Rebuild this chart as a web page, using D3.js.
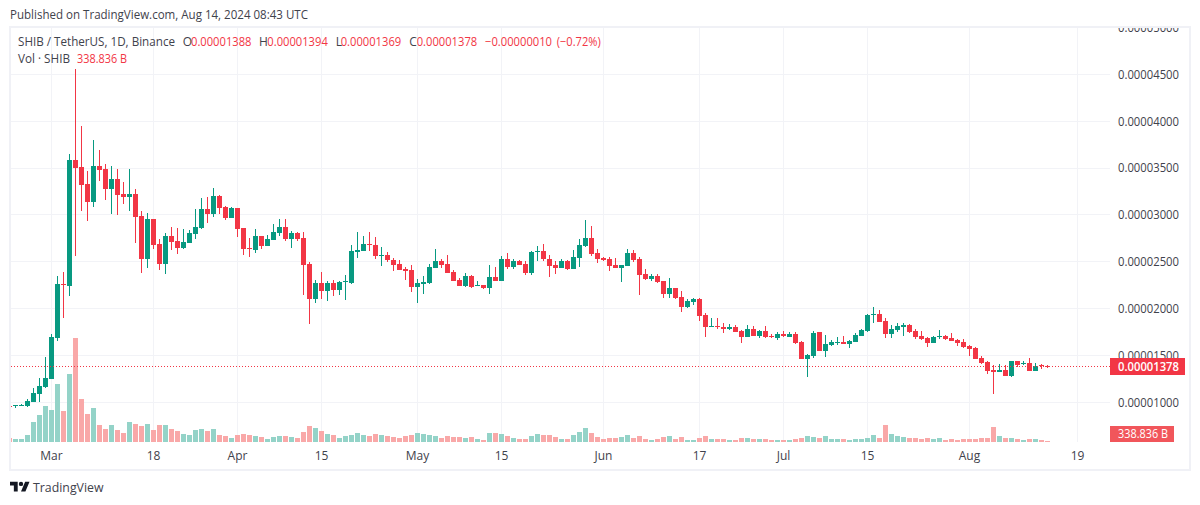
<!DOCTYPE html>
<html>
<head>
<meta charset="utf-8">
<script src="https://cdn.jsdelivr.net/npm/d3@7/dist/d3.min.js"></script>
<style>
html,body{margin:0;padding:0;background:#fff;overflow:hidden}
svg{display:block}
text{font-family:"Open Sans","Noto Sans",sans-serif;font-size:12px}
</style>
</head>
<body>
<svg id="c" width="1200" height="505"></svg>
<script>
// prices in units of 0.00000001, daily from 2024-02-23 to 2024-08-14; volume in billions
const startDay = "2024-02-23";
const opens = [961,954,965,961,1004,1089,1164,1249,1687,2263,2241,3586,3511,3330,3138,3522,3490,3276,3383,3223,3191,3223,2988,2529,2956,2689,2476,2775,2721,2647,2700,2796,2860,3063,3010,3202,3084,2967,3074,2860,2647,2625,2775,2668,2732,2807,2871,2743,2807,2754,2476,2103,2273,2188,2273,2199,2284,2273,2604,2615,2689,2679,2561,2572,2519,2476,2423,2412,2231,2263,2273,2433,2508,2476,2391,2305,2241,2348,2241,2252,2220,2337,2295,2529,2444,2508,2476,2380,2604,2615,2529,2465,2433,2508,2423,2540,2668,2754,2593,2540,2529,2465,2433,2455,2593,2529,2369,2316,2348,2295,2156,2220,2124,2017,2071,2103,1932,1804,1815,1804,1783,1804,1761,1697,1783,1708,1761,1708,1687,1729,1697,1729,1644,1462,1494,1751,1548,1612,1633,1644,1622,1644,1708,1761,1932,1943,1868,1729,1772,1804,1825,1761,1708,1687,1633,1697,1708,1687,1665,1644,1601,1580,1473,1430,1345,1324,1345,1281,1441,1409,1420,1334,1398,1388];
const highs = [972,968,982,1036,1153,1260,1484,1729,2348,2391,3650,4557,3949,3468,3799,3692,3543,3522,3490,3351,3490,3276,3042,3020,2956,2743,2807,2871,2860,2850,2839,3063,3180,3191,3287,3212,3095,3084,3074,2860,2754,2850,2775,2786,2903,2956,2956,2828,2818,2818,2497,2305,2391,2295,2305,2295,2359,2679,2818,2775,2818,2764,2657,2604,2540,2519,2444,2465,2316,2348,2476,2636,2529,2572,2412,2327,2380,2359,2295,2252,2465,2444,2561,2593,2529,2519,2508,2615,2668,2689,2572,2508,2529,2519,2625,2743,2946,2882,2636,2551,2551,2540,2465,2636,2625,2551,2423,2369,2369,2295,2327,2220,2188,2103,2113,2113,1953,1900,1900,1847,1836,1825,1772,1825,1815,1772,1815,1729,1751,1761,1751,1751,1655,1516,1761,1751,1719,1665,1697,1708,1665,1740,1783,1943,2017,1985,1900,1825,1847,1847,1836,1783,1761,1697,1708,1772,1719,1740,1676,1676,1612,1590,1494,1441,1398,1409,1398,1441,1441,1441,1473,1420,1409,1394];
const lows = [950,943,961,950,1004,1004,1153,1249,1655,1900,2135,2561,3042,2935,3084,3361,3159,3010,2999,3116,3042,2700,2380,2433,2636,2412,2369,2625,2583,2636,2700,2743,2850,2914,2978,3010,2946,2967,2764,2572,2551,2593,2636,2668,2732,2775,2721,2647,2721,2145,1836,2060,2103,2081,2135,2145,2092,2263,2540,2615,2615,2529,2455,2497,2401,2412,2305,2177,2060,2156,2263,2433,2433,2380,2295,2241,2231,2220,2241,2209,2156,2295,2295,2423,2423,2465,2359,2359,2508,2508,2337,2369,2433,2412,2423,2444,2657,2561,2487,2508,2401,2433,2284,2455,2497,2145,2305,2295,2273,2113,2113,2103,1964,2007,2039,1868,1697,1804,1783,1740,1772,1751,1633,1697,1708,1687,1687,1687,1665,1697,1697,1622,1462,1270,1473,1548,1484,1601,1612,1622,1580,1644,1708,1751,1847,1857,1687,1687,1751,1708,1740,1676,1665,1590,1633,1676,1665,1655,1601,1580,1494,1462,1409,1302,1089,1324,1281,1270,1377,1398,1334,1334,1356,1369];
const closes = [955,968,972,1014,1100,1174,1260,1697,2263,2252,3586,3500,3319,3138,3522,3479,3276,3383,3212,3191,3223,2978,2529,2956,2679,2476,2775,2711,2647,2711,2807,2871,3063,3010,3202,3074,2967,3074,2850,2636,2636,2775,2668,2743,2818,2871,2743,2807,2743,2465,2103,2273,2188,2273,2199,2284,2295,2615,2625,2689,2679,2561,2572,2519,2465,2412,2401,2231,2273,2284,2444,2508,2465,2380,2295,2241,2348,2231,2252,2220,2337,2295,2529,2444,2508,2465,2380,2604,2615,2529,2455,2433,2508,2423,2551,2679,2754,2583,2529,2519,2455,2433,2465,2593,2519,2359,2316,2348,2284,2156,2220,2113,2017,2081,2103,1921,1804,1815,1804,1783,1804,1751,1697,1783,1708,1761,1697,1697,1729,1708,1729,1633,1462,1505,1740,1548,1622,1644,1644,1622,1655,1719,1772,1932,1943,1857,1729,1783,1815,1825,1751,1697,1676,1633,1697,1708,1676,1655,1633,1590,1569,1462,1420,1334,1324,1345,1281,1441,1398,1420,1334,1388,1388,1378];
const volumes = [1120,840,840,1960,5600,7560,10080,8960,16240,8680,19040,29110,12040,7840,9520,4760,3640,4760,3360,2520,5600,5040,4480,5040,3360,4760,4760,3640,3080,2240,1960,3360,3640,3080,3640,1960,1680,1120,1960,2240,1960,1680,1400,840,1400,1680,1680,1400,1120,2800,4480,3920,3080,2240,1960,1120,1680,1960,2520,1960,1680,2240,1960,1680,1400,1120,1680,1960,2520,2330,1960,1680,1120,1680,1400,1400,1120,1400,840,560,2520,2520,2240,1680,1120,840,840,1680,2240,1960,1960,1400,840,840,1960,2800,3920,2520,1400,840,1120,1120,1400,1960,1120,1680,840,560,840,1400,1680,840,1400,560,560,1120,1680,840,840,840,560,560,1120,1120,840,840,840,560,560,560,560,840,1120,1680,1400,1120,1680,840,840,840,560,840,840,1120,1960,1120,4760,2240,1680,1400,1120,1120,840,1120,840,1120,560,840,560,840,840,840,1120,1120,4200,1680,1120,1120,840,560,840,840,560,338.836];

const priceTicks = [1000,1500,2000,2500,3000,3500,4000,4500,5000];
const timeTickDates = ["2024-03-01","2024-03-18","2024-04-01","2024-04-15","2024-05-01","2024-05-15","2024-06-01","2024-06-17","2024-07-01","2024-07-15","2024-08-01","2024-08-19"];
const timeTickLabels = ["Mar","18","Apr","15","May","15","Jun","17","Jul","15","Aug","19"];
const lastPrice = 1378;
const lastVolume = 338.836;
const title = "Published on TradingView.com, Aug 14, 2024 08:43 UTC";
const legendName = "SHIB / TetherUS, 1D, Binance";
const legendLetters = ["O","H","L","C"];
const legendValues = ["0.00001388","0.00001394","0.00001369","0.00001378"];
const legendChange = "\u22120.00000010";
const legendPct = "(\u22120.72%)";

const RED="#f23645", GREEN="#089981", VOLRED="#f9a8a8", VOLGREEN="#94d3c8";
const GRID="#f2f3f7", FRAME="#f0f1f6", TXT="#3f424c";
const fmtPrice = p => (p/1e8).toFixed(8);

const svg = d3.select("#c");
const L=11,R=1110,T=28,B=442;
const days = opens.map((_,i)=>d3.utcDay.offset(new Date(startDay+"T00:00:00Z"),i));
const x = d3.scaleUtc().domain([days[0],days[days.length-1]]).range([9.5,1047.5]);
const y = d3.scaleLinear().domain([1000,5000]).range([402.4,27.5]);
const v = d3.scaleLinear().domain([0,29120]).range([442,338]);
const bar = (a,b)=>[Math.round(Math.min(a,b)),Math.max(1,Math.round(Math.abs(a-b)))];

svg.append("defs").append("clipPath").attr("id","plot").append("rect").attr("x",L).attr("y",T).attr("width",R-L).attr("height",B-T);
svg.append("defs").append("clipPath").attr("id","ax").append("rect").attr("x",R).attr("y",T).attr("width",1189-R).attr("height",B-T);

// frame
svg.append("rect").attr("x",10).attr("y",27).attr("width",1180).attr("height",443).attr("fill","#fff").attr("stroke",FRAME).attr("stroke-width",2);

// grid
const grid = svg.append("g").attr("clip-path","url(#plot)").attr("shape-rendering","crispEdges");
grid.selectAll(".h").data(priceTicks).join("line").attr("x1",L).attr("x2",R)
  .attr("y1",d=>Math.floor(y(d))+.5).attr("y2",d=>Math.floor(y(d))+.5).attr("stroke",GRID);
const tickDates = timeTickDates.map(d=>new Date(d+"T00:00:00Z"));
grid.selectAll(".v").data(tickDates).join("line")
  .attr("x1",d=>Math.floor(x(d))+.5).attr("x2",d=>Math.floor(x(d))+.5).attr("y1",T).attr("y2",B).attr("stroke",GRID);

// volume
const plot = svg.append("g").attr("clip-path","url(#plot)").attr("shape-rendering","crispEdges");
plot.selectAll(".vol").data(volumes).join("rect")
  .attr("x",(d,i)=>Math.floor(x(days[i]))-2).attr("width",5)
  .attr("y",d=>Math.round(v(d))).attr("height",d=>Math.max(1,442-Math.round(v(d))))
  .attr("fill",(d,i)=>closes[i]>=opens[i]?VOLGREEN:VOLRED);

// candles
const col = i=>closes[i]>=opens[i]?GREEN:RED;
plot.selectAll(".wick").data(opens).join("rect")
  .attr("x",(d,i)=>Math.floor(x(days[i]))).attr("width",1)
  .attr("y",(d,i)=>Math.round(y(highs[i]))).attr("height",(d,i)=>Math.max(1,Math.round(y(lows[i]))-Math.round(y(highs[i]))))
  .attr("fill",(d,i)=>col(i));
plot.selectAll(".body").data(opens).join("rect")
  .attr("x",(d,i)=>Math.floor(x(days[i]))-2).attr("width",5)
  .attr("y",(d,i)=>bar(y(opens[i]),y(closes[i]))[0]).attr("height",(d,i)=>bar(y(opens[i]),y(closes[i]))[1])
  .attr("fill",(d,i)=>col(i));

// last price line
const ly = Math.floor(y(lastPrice))+.5;
svg.append("line").attr("x1",L).attr("x2",R).attr("y1",ly).attr("y2",ly)
  .attr("stroke",RED).attr("stroke-dasharray","1 2").attr("shape-rendering","crispEdges");

// price axis labels
svg.append("g").attr("clip-path","url(#ax)").selectAll("text").data(priceTicks).join("text")
  .attr("x",1118).attr("y",d=>y(d)+4.4).attr("fill",TXT).attr("textLength",61).attr("lengthAdjust","spacingAndGlyphs").text(fmtPrice);

// time axis labels
svg.append("g").selectAll("text").data(timeTickDates).join("text")
  .attr("x",d=>x(new Date(d+"T00:00:00Z"))).attr("y",460).attr("text-anchor","middle").attr("fill",TXT)
  .text((d,i)=>timeTickLabels[i]);

// tags
svg.append("rect").attr("x",1110).attr("y",358).attr("width",75).attr("height",17).attr("fill",RED);
svg.append("text").attr("x",1118).attr("y",371).attr("fill","#fff").attr("font-weight",600).attr("textLength",61).attr("lengthAdjust","spacingAndGlyphs").text(fmtPrice(lastPrice));
svg.append("rect").attr("x",1110).attr("y",426).attr("width",64).attr("height",16).attr("fill","#f1565b");
svg.append("text").attr("x",1118).attr("y",438).attr("fill","#fff").attr("textLength",50).attr("lengthAdjust","spacingAndGlyphs").text(lastVolume+" B");

// header + legend
const t=(s,xx,yy,c,len)=>{const e=svg.append("text").attr("x",xx).attr("y",yy).attr("fill",c).text(s);
  if(len)e.attr("textLength",len).attr("lengthAdjust","spacingAndGlyphs");return e;};
t(title,10,19,TXT,298);
t(legendName,18,46,TXT,157);
const lx=[182.7,259,335.7,409.3], vx=[191,267.3,340.7,416.7];
legendLetters.forEach((l,i)=>{t(l,lx[i],46,TXT);t(legendValues[i],vx[i],46,RED,60.5);});
t(legendChange,485,46,RED,67);
t(legendPct,556.7,46,RED,44);
t("Vol \u00b7 SHIB",18,63,TXT,52);
t(lastVolume+" B",77,63,RED,50);

// logo
svg.append("path").attr("transform","translate(10,479.5) scale(.55)").attr("fill","#131722")
  .attr("d","M14 22H7V11H0V4h14v18zM28 22h-8l7.5-18h8L28 22z");
svg.append("circle").attr("transform","translate(10,479.5) scale(.55)").attr("cx",20).attr("cy",8).attr("r",4).attr("fill","#131722");
const lg=t("TradingView",33,492,TXT,70.5);lg.style("font-size","13px");
</script>
</body>
</html>
